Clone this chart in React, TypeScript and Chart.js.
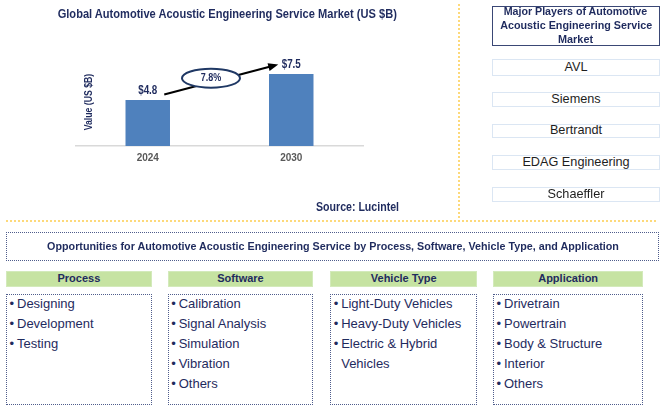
import React, { useEffect, useRef } from "react";
import { Chart, registerables } from "chart.js";

Chart.register(...registerables);

// ---------- data ----------
const years = ["2024", "2030"];
const marketValues = [4.8, 7.5];
const valueLabels = ["$4.8", "$7.5"];
const cagrLabel = "7.8%";
const chartTitle = "Global Automotive Acoustic Engineering Service Market (US $B)";
const yAxisTitle = "Value (US $B)";
const sourceText = "Source: Lucintel";
const playersTitle = ["Major Players of Automotive", "Acoustic Engineering Service", "Market"];
const players = ["AVL", "Siemens", "Bertrandt", "EDAG Engineering", "Schaeffler"];
const opportunitiesTitle =
  "Opportunities for Automotive Acoustic Engineering Service by Process, Software, Vehicle Type, and Application";
const segmentTitles = ["Process", "Software", "Vehicle Type", "Application"];
const processItems = ["Designing", "Development", "Testing"];
const softwareItems = ["Calibration", "Signal Analysis", "Simulation", "Vibration", "Others"];
const vehicleItems = ["Light-Duty Vehicles", "Heavy-Duty Vehicles", "Electric & Hybrid Vehicles"];
const applicationItems = ["Drivetrain", "Powertrain", "Body & Structure", "Interior", "Others"];
const segmentItems = [processItems, softwareItems, vehicleItems, applicationItems];

// ---------- styles ----------
const FONT = '"Liberation Sans", Arial, Helvetica, sans-serif';
const NAVY = "#1f2b5e";
const BAR = "#4f81bd";

const measureCanvas = typeof document !== "undefined" ? document.createElement("canvas") : null;
function textWidth(text: string, font: string): number {
  const ctx = measureCanvas!.getContext("2d")!;
  ctx.font = font;
  return ctx.measureText(text).width;
}

function FitText(props: {
  text: string;
  x: number;
  y: number;
  w?: number;
  size: number;
  weight?: number;
  color: string;
  align?: "left" | "center" | "right";
}) {
  const { text, x, y, w, size, weight = 700, color, align = "center" } = props;
  const font = `${weight} ${size}px ${FONT}`;
  const nat = textWidth(text, font);
  const sx = w ? w / nat : 1;
  const left = align === "left" ? x : align === "right" ? x - nat : x - nat / 2;
  return (
    <div
      style={{
        position: "absolute",
        left,
        top: y - size * 0.62,
        font,
        lineHeight: `${size * 1.2}px`,
        whiteSpace: "nowrap",
        color,
        transform: `scaleX(${sx})`,
        transformOrigin: `${align} center`,
      }}
    >
      {text}
    </div>
  );
}

function drawScaledText(ctx: CanvasRenderingContext2D, text: string, x: number, y: number, sx: number, rot = 0) {
  ctx.save();
  ctx.translate(x, y);
  if (rot) ctx.rotate(rot);
  ctx.scale(sx, 1);
  ctx.fillText(text, 0, 0);
  ctx.restore();
}

const annotationPlugin = {
  id: "annotations",
  afterDatasetsDraw(chart: any) {
    const ctx: CanvasRenderingContext2D = chart.ctx;
    const xs = chart.scales.x;
    const ys = chart.scales.y;
    const area = chart.chartArea;
    ctx.save();
    // value labels
    ctx.fillStyle = NAVY;
    ctx.font = `700 12px ${FONT}`;
    ctx.textAlign = "center";
    ctx.textBaseline = "middle";
    marketValues.forEach((v, i) => {
      drawScaledText(ctx, valueLabels[i], xs.getPixelForValue(i), ys.getPixelForValue(v) - 9.5, 0.82);
    });
    // y title
    ctx.font = `700 10px ${FONT}`;
    drawScaledText(ctx, yAxisTitle, area.left + 13, (area.top + area.bottom) / 2 + 4, 0.87, -Math.PI / 2);
    // arrow
    const sx0 = xs.getPixelForValue(0) + 16.5;
    const sy0 = ys.getPixelForValue(marketValues[0]) - 5.5;
    const ex = xs.getPixelForValue(1) - 13;
    const ey = ys.getPixelForValue(marketValues[1]) - 9.5;
    const ang = Math.atan2(ey - sy0, ex - sx0);
    const headLen = 10;
    ctx.strokeStyle = "#000";
    ctx.lineWidth = 2;
    ctx.beginPath();
    ctx.moveTo(sx0, sy0);
    ctx.lineTo(ex - Math.cos(ang) * headLen * 0.8, ey - Math.sin(ang) * headLen * 0.8);
    ctx.stroke();
    ctx.fillStyle = "#000";
    ctx.beginPath();
    ctx.moveTo(ex, ey);
    ctx.lineTo(ex - headLen * Math.cos(ang) + 4 * Math.sin(ang), ey - headLen * Math.sin(ang) - 4 * Math.cos(ang));
    ctx.lineTo(ex - headLen * Math.cos(ang) - 4 * Math.sin(ang), ey - headLen * Math.sin(ang) + 4 * Math.cos(ang));
    ctx.closePath();
    ctx.fill();
    // ellipse
    const t = 0.41;
    const cx = sx0 + (ex - sx0) * t;
    const cy = sy0 + (ey - sy0) * t - 4;
    ctx.beginPath();
    ctx.ellipse(cx, cy, 29, 9.5, 0, 0, Math.PI * 2);
    ctx.fillStyle = "#fff";
    ctx.fill();
    ctx.strokeStyle = "#1f3864";
    ctx.lineWidth = 2;
    ctx.stroke();
    ctx.fillStyle = NAVY;
    ctx.font = `700 10px ${FONT}`;
    drawScaledText(ctx, cagrLabel, cx, cy + 0.5, 0.9);
    ctx.restore();
  },
};

function BarChart() {
  const ref = useRef<HTMLCanvasElement | null>(null);
  useEffect(() => {
    if (!ref.current) return;
    const chart = new Chart(ref.current, {
      type: "bar",
      data: {
        labels: years,
        datasets: [
          {
            data: marketValues,
            backgroundColor: BAR,
            borderWidth: 0,
            barPercentage: 0.31,
            categoryPercentage: 1,
          },
        ],
      },
      options: {
        responsive: false,
        animation: false,
        devicePixelRatio: 1,
        layout: { padding: { left: 76, right: 97, top: 50, bottom: 49.3 } },
        plugins: { legend: { display: false }, tooltip: { enabled: false }, title: { display: false } },
        scales: {
          x: {
            grid: { display: false, drawTicks: false },
            border: { display: true, color: "#d9d9d9", width: 1.5 },
            ticks: { color: "#595959", font: { family: FONT, size: 10, weight: "bold" }, padding: 6.3 },
          },
          y: { display: false, min: 0, max: 10 },
        },
      },
      plugins: [annotationPlugin],
    });
    return () => chart.destroy();
  }, []);
  return <canvas ref={ref} width={460} height={220} style={{ position: "absolute", left: 0, top: 0 }} />;
}

const playerBoxes = [
  [59, 76],
  [92, 107],
  [124, 138],
  [155, 170],
  [187, 202],
];
const segLefts = [6, 167.7, 330.2, 493];
const segWidths = [145.7, 145.6, 147, 150.3];

export default function App() {
  return (
    <div
      style={{
        position: "absolute",
        left: 0,
        top: 0,
        width: 666,
        height: 414,
        background: "#fff",
        fontFamily: FONT,
        overflow: "hidden",
      }}
    >
      <BarChart />
      <FitText text={chartTitle} x={228} y={15} w={340} size={12.5} color={NAVY} />
      <FitText text={sourceText} x={399} y={207} w={83} size={12} color={NAVY} align="right" />

      {/* separators */}
      <div style={{ position: "absolute", left: 457.5, top: 4, height: 214, borderLeft: "2px dotted #fdd97a" }} />
      <div style={{ position: "absolute", left: 6, top: 219.5, width: 650, borderTop: "2px dotted #fdd97a" }} />

      {/* players */}
      <div
        style={{
          position: "absolute",
          left: 492,
          top: 6,
          width: 168,
          height: 40,
          boxSizing: "border-box",
          border: "1.5px solid #3a4775",
        }}
      />
      {playersTitle.map((t, i) => (
        <FitText
          key={t}
          text={t}
          x={576}
          y={12.3 + i * 14}
          w={[144, 152, 35][i]}
          size={11.5}
          color={NAVY}
        />
      ))}
      {players.map((p, i) => (
        <React.Fragment key={p}>
          <div
            style={{
              position: "absolute",
              left: 492,
              top: playerBoxes[i][0],
              width: 168,
              height: playerBoxes[i][1] - playerBoxes[i][0],
              boxSizing: "border-box",
              border: "1.5px solid #dbe6f3",
            }}
          />
          <FitText
            text={p}
            x={576}
            y={(playerBoxes[i][0] + playerBoxes[i][1]) / 2}
            size={12.7}
            weight={400}
            color="#1e1e1e"
          />
        </React.Fragment>
      ))}

      {/* opportunities */}
      <div
        style={{
          position: "absolute",
          left: 6,
          top: 231.7,
          width: 653,
          height: 29,
          boxSizing: "border-box",
          border: "1px dotted #4f5d8c",
        }}
      />
      <FitText text={opportunitiesTitle} x={333.2} y={246.7} w={573} size={11.5} color={NAVY} />

      {segmentTitles.map((s, i) => (
        <React.Fragment key={s}>
          <div
            style={{
              position: "absolute",
              left: segLefts[i],
              top: 270.7,
              width: segWidths[i],
              height: 16,
              background: "#c6e3a2",
              boxSizing: "border-box",
              border: "1px solid #d3eabb",
            }}
          />
          <FitText text={s} x={segLefts[i] + segWidths[i] / 2} y={278.5} size={11} color={NAVY} />
          <div
            style={{
              position: "absolute",
              left: segLefts[i],
              top: 294.3,
              width: segWidths[i],
              height: 110.7,
              boxSizing: "border-box",
              border: "1px dotted #4f5d8c",
            }}
          />
          <div
            style={{
              position: "absolute",
              left: segLefts[i],
              top: 293.6,
              width: segWidths[i] - 6,
              font: `400 13px ${FONT}`,
              lineHeight: "20.2px",
              color: NAVY,
            }}
          >
            {segmentItems[i].map((it) => (
              <div key={it} style={{ display: "flex" }}>
                <span style={{ width: 11, flex: "0 0 11px", paddingLeft: 3.5, boxSizing: "border-box" }}>•</span>
                <span>{it}</span>
              </div>
            ))}
          </div>
        </React.Fragment>
      ))}
    </div>
  );
}
